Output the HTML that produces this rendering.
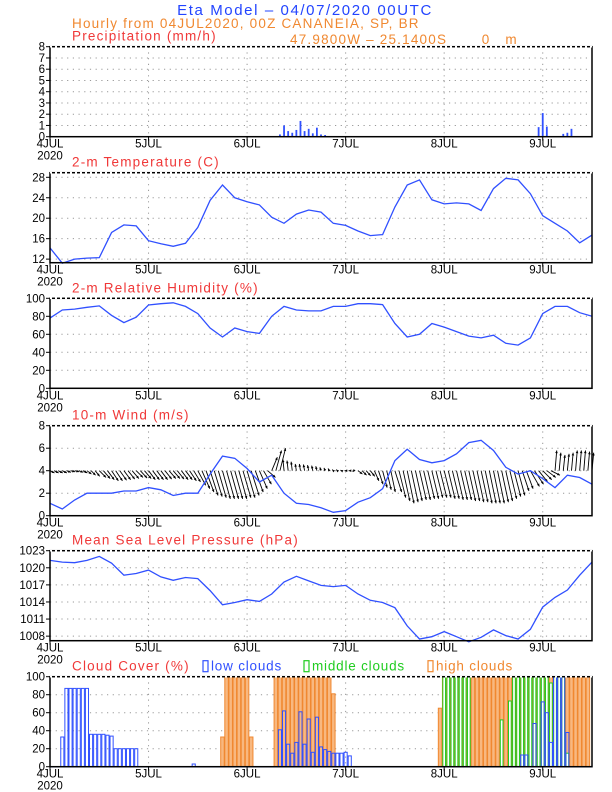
<!DOCTYPE html>
<html><head><meta charset="utf-8"><style>
html,body{margin:0;padding:0;background:#fff;}
svg{display:block;font-family:"Liberation Sans",sans-serif;}
</style></head><body>
<svg id="chart" width="612" height="792" viewBox="0 0 612 792" xmlns="http://www.w3.org/2000/svg">
<text x="305" y="15" fill="#2244ff" font-size="15" letter-spacing="1.6" text-anchor="middle">Eta Model – 04/07/2020 00UTC</text>
<text x="72" y="28" fill="#f08830" font-size="13.5" letter-spacing="1.2">Hourly from 04JUL2020, 00Z  CANANEIA, SP, BR</text>
<text x="290" y="44" fill="#f08830" font-size="13.5" letter-spacing="1.2" xml:space="preserve">47.9800W – 25.1400S       0   m</text>
<g id="g"></g>
</svg>
<script>
// ---- data (hours from 04JUL 00Z) ----
const hours3 = [0,3,6,9,12,15,18,21,24,27,30,33,36,39,42,45,48,51,54,57,60,63,66,69,72,75,78,81,84,87,90,93,96,99,102,105,108,111,114,117,120,123,126,129,132];
const dayLabels = ["4JUL","5JUL","6JUL","7JUL","8JUL","9JUL"];
const tempVals = [14.2,11.2,12,12.2,12.3,17.2,18.7,18.5,15.6,15,14.5,15.1,18.2,23.5,26.5,24,23.2,22.6,20.2,19,20.8,21.6,21.2,19,18.6,17.5,16.6,16.8,22.2,26.5,27.5,23.6,22.8,23,22.8,21.5,25.8,27.8,27.5,24.8,20.5,19,17.5,15.2,16.7];
const rhVals = [78,87,88,90,91.5,81,73,79,92.6,94,95,91,83,67,57,67,63,61,80,91,87,86,86,91,91,94,94,93,72,57,60,72,68,63,58,56,59,50,48,56,83,91,91,84,80];
const windSpd = [1.1,0.6,1.4,2,2,2,2.2,2.2,2.5,2.3,1.8,2,2,3.7,5.3,5.1,4.2,3,3.6,2,1.1,1,0.7,0.3,0.45,1.2,1.6,2.4,4.9,5.9,5,4.7,4.9,5.5,6.5,6.7,5.8,4.3,3.7,4,3.3,2.5,3.6,3.4,2.8];
// hourly wind vector components (m/s), h0..h132
const windV = [-0.2,-0.2,-0.2,-0.2,-0.15,-0.1,-0.1,-0.15,-0.2,-0.3,-0.4,-0.5,
-0.6,-0.7,-0.8,-0.9,-0.9,-0.85,-0.8,-0.75,-0.7,-0.6,-0.65,-0.7,
-0.8,-0.8,-0.8,-0.8,-0.75,-0.7,-0.7,-0.75,-0.8,-0.8,-0.9,-1.0,
-1.3,-1.6,-1.9,-2.2,-2.3,-2.4,-2.5,-2.5,-2.5,-2.5,-2.5,-2.4,
-2.4,-2.2,-1.9,-1.6,-1.2,-0.6,1.2,1.8,2.0,1.0,0.9,0.8,
0.6,0.6,0.55,0.5,0.45,0.4,0.3,0.25,0.2,0.1,0.1,0.05,
0,0,-0.1,-0.3,-0.4,-0.45,-0.5,-0.9,-1.2,-1.5,-1.7,-1.9,
-1.9,-2.4,-2.7,-2.9,-2.8,-2.7,-2.6,-2.6,-2.5,-2.5,-2.4,-2.4,
-2.4,-2.5,-2.5,-2.6,-2.6,-2.6,-2.7,-2.7,-2.8,-2.8,-2.9,-2.9,
-2.9,-2.9,-2.8,-2.7,-2.5,-2.3,-2.2,-1.8,-1.6,-1.4,-1.2,-1.0,
-0.8,-0.6,-0.4,1.8,1.6,1.4,1.5,1.6,1.8,1.8,1.8,1.7,1.6];
const windU = [0.4,0.4,0.4,0.4,0.4,0.4,0.4,0.4,0.4,0.4,0.4,0.4,
0.6,0.6,0.6,0.6,0.6,0.6,0.6,0.6,0.6,0.6,0.6,0.6,
0.6,0.6,0.6,0.6,0.6,0.6,0.6,0.6,0.6,0.6,0.6,0.6,
0.7,0.7,0.7,0.7,0.7,0.7,0.7,0.7,0.7,0.7,0.7,0.7,
0.7,0.7,0.7,0.7,0.7,0.7,0.5,0.5,0.5,-0.1,-0.1,-0.1,
-0.1,-0.1,-0.1,-0.1,-0.1,-0.1,-0.1,-0.1,-0.1,-0.1,-0.1,-0.1,
-0.1,-0.1,-0.1,0.4,0.4,0.4,0.4,0.4,0.4,0.4,0.4,0.4,
0.6,0.6,0.6,0.6,0.6,0.6,0.6,0.6,0.6,0.6,0.6,0.6,
0.6,0.6,0.6,0.6,0.6,0.6,0.6,0.6,0.6,0.6,0.6,0.6,
0.6,0.6,0.6,0.6,0.6,0.6,0.6,0.6,0.6,0.8,0.8,0.8,
0.8,0.8,0.8,0.15,0.15,0.15,0.15,0.15,0.15,0.15,0.15,0.15,0.15];
const mslpVals = [1021.3,1021,1020.9,1021.3,1022,1020.8,1018.7,1019,1019.6,1018.4,1017.8,1018.3,1018.1,1016,1013.5,1013.9,1014.4,1014.1,1015.4,1017.5,1018.5,1017.7,1016.9,1016.7,1016.9,1015.4,1014.3,1013.9,1013,1009.8,1007.5,1007.9,1008.8,1007.9,1007,1007.8,1009.1,1008.1,1007.5,1009.2,1013.1,1014.8,1016.1,1018.7,1021];
const precipHours = [56,57,58,59,60,61,62,63,64,65,66,67,68,69,119,120,121,124,125,126,127];
const precipVals = [0.2,1,0.5,0.35,0.6,1.4,0.5,0.7,0.3,0.8,0.2,0.15,0.05,0.05,0.85,2.1,0.9,0.05,0.25,0.35,0.7];
const lowHours = [3,4,5,6,7,8,9,10,11,12,13,14,15,16,17,18,19,20,21,35,56,57,58,59,60,61,62,63,64,65,66,67,68,69,70,71,72,73,115,116,118,120,121,122,123,124,125,126];
const lowVals = [33,87,87,87,87,87,87,36,36,36,36,35,34,20,20,20,20,20,20,3,41,62,25,15,27,61,25,53,16,55,22,19,17,15,15,15,16,12,13,13,48,72,60,27,100,100,100,38];
const midHours = [96,97,98,99,100,101,102,110,112,113,114,115,116,117,118,119,120,121,122,123,124,125,126];
const midVals = [100,100,100,100,100,100,100,52,73,100,100,100,100,100,100,100,100,100,93,100,100,100,15];
const highHours = [42,43,44,45,46,47,48,49,55,56,57,58,59,60,61,62,63,64,65,66,67,68,69,95,96,97,98,99,100,101,102,103,104,105,106,107,108,109,110,111,112,113,114,115,116,117,118,119,120,121,122,123,124,125,126,127,128,129,130,131];
const highVals = [33,100,100,100,100,100,100,33,100,100,100,100,100,100,100,100,100,100,100,100,100,100,81,65,100,100,100,100,100,100,100,100,100,100,100,100,100,100,100,100,100,100,100,100,100,100,100,100,100,100,100,100,100,100,100,100,100,100,100,100];

// ---- layout ----
const NS="http://www.w3.org/2000/svg";
const G=document.getElementById('g');
const X0=50,X1=592,NH=132;
function xs(h){return X0+h*(X1-X0)/NH;}
function mk(tag,attrs,parent){const e=document.createElementNS(NS,tag);for(const k in attrs)e.setAttribute(k,attrs[k]);(parent||G).appendChild(e);return e;}
const BLUE="#3050ff";
function panel(name,top,ymin,ymax,ticks,title){
  const bot=top+90;
  const ys=v=>bot-(v-ymin)/(ymax-ymin)*90;
  const g=mk('g',{});
  
  
  ticks.forEach(t=>{const y=ys(t);if(y>top+1&&y<bot-1){const l=mk('line',{x1:X0,x2:X1,y1:y,y2:y,stroke:'#999','stroke-dasharray':'1.2,4.5','stroke-width':1},g);}});
  for(let d=1;d<6;d++){const x=xs(d*24);const l=mk('line',{x1:x,x2:x,y1:top,y2:bot,stroke:'#999','stroke-dasharray':'1.2,4.5'},g);}
  ticks.forEach(t=>{const y=ys(t);mk('line',{x1:X0-4,x2:X0,y1:y,y2:y,stroke:'#000'},g);const tx=mk('text',{x:X0-5,y:y+4,'font-size':11.5,'text-anchor':'end',fill:'#000'},g);tx.textContent=t;});
  dayLabels.forEach((d,i)=>{const x=xs(i*24);mk('line',{x1:x,x2:x,y1:bot,y2:bot+4,stroke:'#000'},g);const tx=mk('text',{x:x,y:bot+11,'font-size':11.5,'text-anchor':'middle',fill:'#000'},g);tx.textContent=d;});
  const yr=mk('text',{x:X0,y:bot+23,'font-size':11.5,'text-anchor':'middle',fill:'#000'},g);yr.textContent='2020';
  
  
  if(title){const tt=mk('text',{x:72,y:top-6,'font-size':13.5,'letter-spacing':1.2,fill:'#f03838'},g);tt.textContent=title;}
  return {g,ys,top,bot};
}
function frame(p,name){
  const f=mk('rect',{x:X0,y:p.top,width:X1-X0,height:90,fill:'none',stroke:'#000','stroke-width':1.5},p.g);
  
  mk('line',{x1:X0,x2:X1,y1:p.top,y2:p.top,stroke:'#fff','stroke-width':1.6,'stroke-dasharray':'2,3'},p.g);
}
function line(p,vals,name){
  const pts=hours3.map((h,i)=>xs(h).toFixed(1)+','+p.ys(vals[i]).toFixed(1)).join(' ');
  const l=mk('polyline',{points:pts,fill:'none',stroke:BLUE,'stroke-width':1.3},p.g);
  
}
const tops=[46.7,172.7,298.3,425.7,550.7,676.7];

const pp=panel('precip',tops[0],0,8,[0,1,2,3,4,5,6,7,8],'Precipitation (mm/h)');
precipHours.forEach((h,i)=>{const y=pp.ys(precipVals[i]);const r=mk('rect',{x:xs(h)-0.9,y:y,width:1.8,height:pp.bot-y,fill:BLUE},pp.g);});
frame(pp,'precip');

const pt=panel('temperature',tops[1],11.3,28.9,[12,16,20,24,28],'2-m Temperature (C)');
line(pt,tempVals,'temperature-line');frame(pt,'temperature');

const pr=panel('humidity',tops[2],0,100,[0,20,40,60,80,100],'2-m Relative Humidity (%)');
line(pr,rhVals,'humidity-line');frame(pr,'humidity');

const pw=panel('wind',tops[3],0,8,[0,2,4,6,8],'10-m Wind (m/s)');
const sc=90/8;
windV.forEach((v,h)=>{
  const x0=xs(h),y0=pw.ys(4),x1=x0+windU[h]*sc,y1=y0-v*sc;
  const a=mk('g',{},pw.g);
  
  
  mk('line',{x1:x0,y1:y0,x2:x1,y2:y1,stroke:'#000','stroke-width':0.9},a);
  const ang=Math.atan2(y1-y0,x1-x0),L=3;
  const p1=[x1-L*Math.cos(ang-0.45),y1-L*Math.sin(ang-0.45)],p2=[x1-L*Math.cos(ang+0.45),y1-L*Math.sin(ang+0.45)];
  mk('polygon',{points:`${x1},${y1} ${p1[0]},${p1[1]} ${p2[0]},${p2[1]}`,fill:'#000'},a);
});
line(pw,windSpd,'wind-speed-line');frame(pw,'wind');

const pm=panel('pressure',tops[4],1007.2,1023,[1008,1011,1014,1017,1020,1023],'Mean Sea Level Pressure (hPa)');
line(pm,mslpVals,'pressure-line');frame(pm,'pressure');

const pc=panel('cloud',tops[5],0,100,[0,20,40,60,80,100],'Cloud Cover (%)');
function bars(hs,vs,fill,stroke,inset,name){hs.forEach((h,i)=>{const y=pc.ys(vs[i]);const r=mk('rect',{x:xs(h-0.5)+inset,y:y,width:xs(1)-X0-2*inset,height:pc.bot-y,fill:fill,stroke:stroke,'stroke-width':1},pc.g);});}
bars(highHours,highVals,'#f8b880','#f08830',0.3,'high-cloud-bar');
bars(midHours,midVals,'#fff','#20cc20',0.7,'middle-cloud-bar');
bars(lowHours,lowVals,'none',BLUE,0.5,'low-cloud-bar');
mk('line',{x1:X0,x2:X1,y1:pc.bot,y2:pc.bot,stroke:BLUE,'stroke-width':1.5},pc.g);
frame(pc,'cloud');
const lg=mk('g',{});
[[203,'low clouds',BLUE],[304,'middle clouds','#20cc20'],[428,'high clouds','#f08830']].forEach(([x,t,c])=>{
  const e=mk('g',{},lg);
  
  
  mk('rect',{x:x,y:tops[5]-16,width:5,height:11,fill:'none',stroke:c,'stroke-width':1.2},e);
  const tx=mk('text',{x:x+8,y:tops[5]-6,'font-size':13.5,'letter-spacing':0.8,fill:c},e);tx.textContent=t;
});
</script>
</body></html>
